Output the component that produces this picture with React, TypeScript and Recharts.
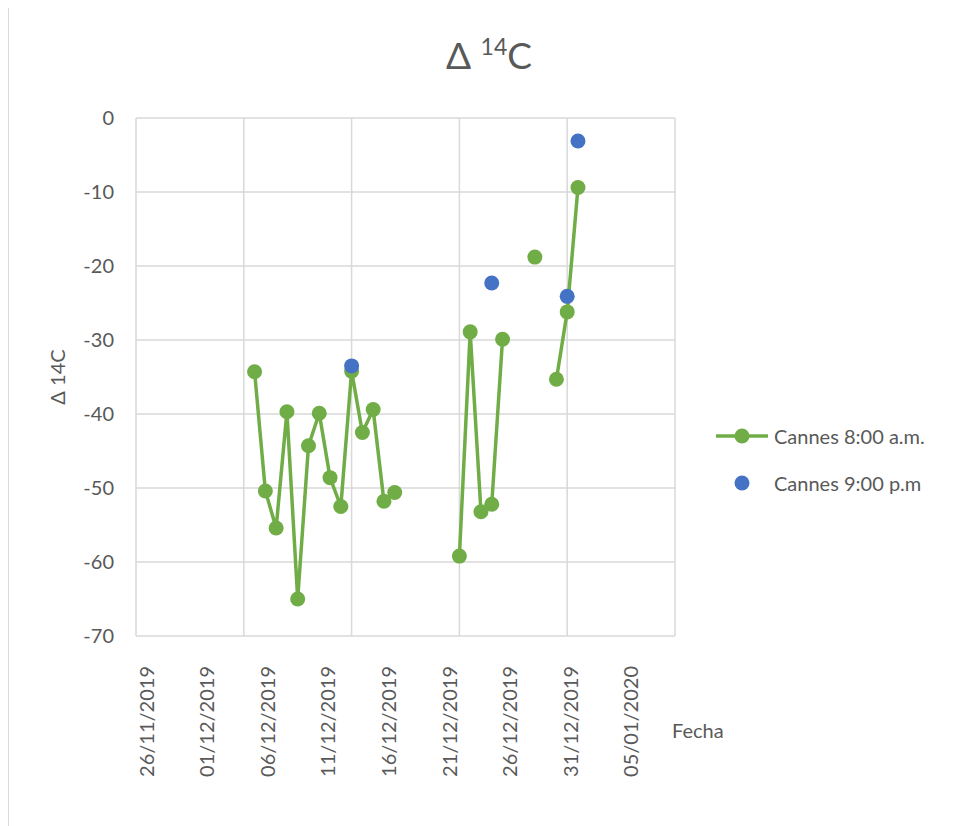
import React from 'react';
import { LineChart, Line, XAxis, YAxis, CartesianGrid, Legend, Label } from 'recharts';

// sampling day (counted on the plot's day axis) and Δ14C readings
const sampleDays = [11, 12, 13, 14, 15, 16, 17, 18, 19, 20, 21, 22, 23, 24, 25, 26, 27, 28, 29, 30, 31, 32, 33, 34, 35, 36, 37, 38, 39, 40, 41];
const cannesAm = [-34.3, -50.4, -55.4, -39.7, -65.0, -44.3, -39.9, -48.6, -52.5, -34.2, -42.5, -39.4, -51.8, -50.6, null, null, null, null, null, -59.2, -28.9, -53.2, -52.2, -29.9, null, null, -18.8, null, -35.3, -26.2, -9.4];
const cannesPm = [null, null, null, null, null, null, null, null, null, -33.5, null, null, null, null, null, null, null, null, null, null, null, null, -22.3, null, null, null, null, null, null, -24.1, -3.1];

const dayTicks = [0, 10, 20, 30, 40, 50];
const dateLabels = ['26/11/2019', '01/12/2019', '06/12/2019', '11/12/2019', '16/12/2019', '21/12/2019', '26/12/2019', '31/12/2019', '05/01/2020'];
const yTicks = [0, -10, -20, -30, -40, -50, -60, -70];

const data = sampleDays.map((day, i) => ({ day, am: cannesAm[i], pm: cannesPm[i] }));

const series = [
  { key: 'am', name: 'Cannes 8:00 a.m.', color: '#70ad47', line: true },
  { key: 'pm', name: 'Cannes 9:00 p.m', color: '#4472c4', line: false },
];

const FONT = 'Lato, "Open Sans", sans-serif';
const TEXT = '#595959';

const DateTick = (props: any) => {
  const { x, y, payload } = props;
  return (
    <g transform={`translate(${x},${y + 28})`}>
      <text transform="rotate(-90)" textAnchor="end" dy="0.35em" fill={TEXT} fontSize={20} fontFamily={FONT}>
        {dateLabels[payload.value]}
      </text>
    </g>
  );
};

const NoTick = () => <g />;

const LegendBox = () => (
  <div style={{ fontFamily: FONT, fontSize: 20, color: TEXT }}>
    {series.map((s) => (
      <div key={s.key} style={{ display: 'flex', alignItems: 'center', height: 47 }}>
        <svg width={60} height={20}>
          {s.line && <line x1={2} y1={10} x2={54} y2={10} stroke={s.color} strokeWidth={3.5} />}
          <circle cx={28} cy={10} r={7.5} fill={s.color} />
        </svg>
        <span>{s.name}</span>
      </div>
    ))}
  </div>
);

const App = () => {
  return (
    <div style={{ position: 'relative', width: 948, height: 818 }}>
      <div style={{ position: 'absolute', left: 0, top: -2, width: 948, height: 820, borderLeft: '1.5px solid #d9d9d9', borderTop: '1.5px solid #d9d9d9', boxSizing: 'border-box' }} />
      <div style={{ position: 'absolute', left: 0, width: 962, top: 24, textAlign: 'center', fontFamily: FONT, fontSize: 37, color: TEXT }}>
        Δ <span style={{ fontSize: 23, verticalAlign: 14 }}>14</span>C
      </div>
      <div style={{ position: 'absolute', left: 664, top: 710, fontFamily: FONT, fontSize: 20, color: TEXT }}>Fecha</div>
      <LineChart width={948} height={818} data={data} margin={{ top: 110, right: 281, left: 68, bottom: 39 }}>
        <CartesianGrid stroke="#d9d9d9" strokeWidth={1.5} xAxisId="day" />
        <XAxis xAxisId="day" dataKey="day" type="number" domain={[0, 50]} ticks={dayTicks} interval={0} tick={<NoTick />} axisLine={false} tickLine={false} height={1} />
        <XAxis xAxisId="date" dataKey="day" type="number" scale="linear" domain={[-0.176, 8.718]} ticks={dateLabels.map((_, i) => i)} interval={0} tick={<DateTick />} axisLine={false} tickLine={false} tickSize={0} height={150} allowDataOverflow />
        <YAxis type="number" domain={[-70, 0]} ticks={yTicks} width={60} axisLine={false} tickLine={false} tickSize={0} tickMargin={22}
          tick={{ fill: TEXT, fontSize: 20, fontFamily: FONT }}>
          <Label content={({ viewBox }: any) => (
            <text x={viewBox.x - 18} y={viewBox.y + viewBox.height / 2} transform={`rotate(-90 ${viewBox.x - 18} ${viewBox.y + viewBox.height / 2})`}
              textAnchor="middle" dy="0.35em" fill={TEXT} fontSize={20} fontFamily={FONT}>Δ 14C</text>
          )} />
        </YAxis>
        <Legend layout="vertical" align="center" verticalAlign="middle" wrapperStyle={{ left: 706, top: 404, width: 240 }} content={<LegendBox />} />
        {series.map((s) => (
          <Line key={s.key} xAxisId="day" dataKey={s.key} name={s.name} stroke={s.line ? s.color : 'none'} strokeWidth={3.5}
            dot={{ r: 7.5, fill: s.color, stroke: 'none' }} activeDot={false} connectNulls={false} isAnimationActive={false} />
        ))}
      </LineChart>
    </div>
  );
};

export default App;
